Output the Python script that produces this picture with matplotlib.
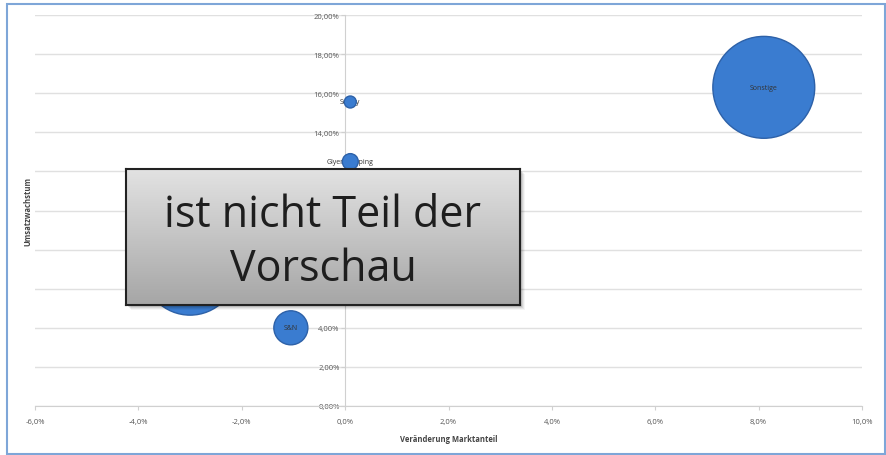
import matplotlib
matplotlib.use("Agg")
import matplotlib.pyplot as plt
import numpy as np
from matplotlib.ticker import FuncFormatter
from matplotlib.patches import Rectangle

# ---- data ----
names = ["Sonstige", "", "S&N", "Glyentkeeping", "Schilly"]
market_change = [8.1, -3.0, -1.05, 0.1, 0.1]      # Veränderung Marktanteil (%)
growth = [16.3, 7.05, 4.0, 12.5, 15.55]            # Umsatzwachstum (%)
bubble_size = [26.0, 22.1, 2.9, 0.64, 0.36]        # bubble size (relative)

x_ticks = [-6, -4, -2, 0, 2, 4, 6, 8, 10]
y_ticks = [0, 2, 4, 6, 8, 10, 12, 14, 16, 18, 20]

plt.rcParams['font.family'] = ['Open Sans', 'DejaVu Sans']

fig = plt.figure(figsize=(8.87, 4.56), dpi=100)
fig.patch.set_facecolor("white")

# outer chart border
fig.patches.append(Rectangle((7/887, 1/456), 878/887, 450/456, transform=fig.transFigure,
                             fill=False, edgecolor="#7ea6d8", linewidth=1.5, zorder=0))

ax = fig.add_axes([35/887, 49/456, 827/887, 391/456])
ax.set_xlim(-6, 10)
ax.set_ylim(0, 20)
ax.set_xticks(x_ticks)
ax.set_yticks(y_ticks)
ax.xaxis.set_major_formatter(FuncFormatter(lambda v, p: f"{v:.1f}%".replace(".", ",")))
ax.yaxis.set_major_formatter(FuncFormatter(lambda v, p: f"{v:.2f}%".replace(".", ",")))

for s in ["top", "right"]:
    ax.spines[s].set_visible(False)
ax.spines["left"].set_position(("data", 0))
ax.spines["left"].set_color("#d0d0d0")
ax.spines["bottom"].set_color("#d0d0d0")
ax.tick_params(axis="both", colors="#d0d0d0", labelcolor="#555555", labelsize=5.5, length=3)
ax.tick_params(axis="x", pad=6)
ax.tick_params(axis="y", pad=1)
ax.grid(axis="y", color="#e0e0e0", linewidth=1.0)
ax.set_axisbelow(True)

ax.set_xlabel("Veränderung Marktanteil", fontsize=5.5, fontweight="bold", color="#444444", labelpad=6)
fig.text(28/887, 0.5 + (228 - 211) / 456, "Umsatzwachstum", rotation=90, fontsize=5.5,
         fontweight="bold", color="#444444", ha="center", va="center")

k = 207.0
sizes = [b * k for b in bubble_size]
ax.scatter(market_change, growth, s=sizes, color="#3a7cd0", edgecolor="#2d61a8",
           linewidth=1.0, zorder=3)

for n, x, y, b in zip(names, market_change, growth, bubble_size):
    if not n:
        continue
    z = 4 if b > 1 else 2
    ax.text(x, y, n, fontsize=5, ha="center", va="center", color="#333333", zorder=z)

# ---- overlay box "ist nicht Teil der Vorschau" ----
bx, by, bw, bh = 126/887, 150/456, 394/887, 136/456
# shadow
for i, a in enumerate([0.10, 0.08, 0.06, 0.04]):
    off = (i + 2) / 887
    fig.patches.append(Rectangle((bx + off, by - (i + 2) / 456), bw, bh, transform=fig.transFigure,
                                 facecolor="black", alpha=a, edgecolor="none", zorder=9))
bax = fig.add_axes([bx, by, bw, bh], zorder=10)
grad = np.linspace(0, 1, 100).reshape(-1, 1)
bax.imshow(grad, aspect="auto", cmap=matplotlib.colors.LinearSegmentedColormap.from_list(
    "g", ["#e2e2e2", "#a6a6a6"]), extent=[0, 1, 0, 1], origin="upper")
bax.set_xticks([])
bax.set_yticks([])
for s in bax.spines.values():
    s.set_color("#222222")
    s.set_linewidth(1.5)
bax.text(0.5, 0.66, "ist nicht Teil der", fontsize=31, ha="center", va="center",
         color="#1e1e1e", transform=bax.transAxes)
bax.text(0.5, 0.27, "Vorschau", fontsize=31, ha="center", va="center",
         color="#1e1e1e", transform=bax.transAxes)

fig.savefig("out.png", dpi=100)
